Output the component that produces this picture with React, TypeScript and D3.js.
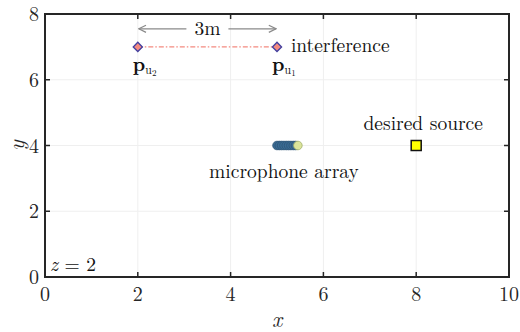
import * as d3 from "d3";

// ---------------------------------------------------------------------------
// Data
// ---------------------------------------------------------------------------

const X_TICKS = [0, 2, 4, 6, 8, 10];
const Y_TICKS = [0, 2, 4, 6, 8];

const MIC_X = [5.0, 5.05, 5.1, 5.15, 5.2, 5.25, 5.3, 5.35, 5.4, 5.45];
const MIC_Y = 4;

const INTERFERENCE = [
  { x: 5, y: 7, sub: "1" },
  { x: 2, y: 7, sub: "2" },
];
const SOURCE = { x: 8, y: 4 };
const ARROW_Y = 7.55;

// ---------------------------------------------------------------------------
// Style / layout
// ---------------------------------------------------------------------------

const W = 520;
const H = 332;
const M = { left: 45, right: 11, top: 14, bottom: 55 };
const FONT = "Latin Modern Roman, serif";
const FS = 19.5;
const AXIS = "#262626";
const GRID = "#efefef";
const MIC_FILL = "#3a6b93";
const MIC_STROKE = "#2e5677";
const MIC_LAST = "#dbe49a";
const LINE_RED = "#f48a80";
const DIAMOND_STROKE = "#4340a0";

export default function App() {
  const innerW = W - M.left - M.right;
  const innerH = H - M.top - M.bottom;
  const x = d3.scaleLinear().domain([0, 10]).range([M.left, M.left + innerW]);
  const y = d3.scaleLinear().domain([0, 8]).range([M.top + innerH, M.top]);

  const diamond = d3.symbol().type(d3.symbolSquare).size(42)();
  const x1 = x(2);
  const x2 = x(5);
  const ay = y(ARROW_Y);

  return (
    <svg
      width={W}
      height={H}
      style={{ position: "absolute", left: 0, top: 0, background: "white" }}
    >
      <defs>
        <marker
          id="ah"
          viewBox="0 0 10 10"
          refX={9}
          refY={5}
          markerWidth={9}
          markerHeight={9}
          orient="auto-start-reverse"
          markerUnits="userSpaceOnUse"
        >
          <path d="M1,1 L9,5 L1,9" fill="none" stroke="#8a8a8a" strokeWidth={1.4} />
        </marker>
      </defs>

      {/* grid */}
      {X_TICKS.map((t) => (
        <line key={`gx${t}`} x1={x(t)} x2={x(t)} y1={M.top} y2={M.top + innerH} stroke={GRID} strokeWidth={1} />
      ))}
      {Y_TICKS.map((t) => (
        <line key={`gy${t}`} x1={M.left} x2={M.left + innerW} y1={y(t)} y2={y(t)} stroke={GRID} strokeWidth={1} />
      ))}

      {/* interference line */}
      <line
        x1={x(2)}
        x2={x(5)}
        y1={y(7)}
        y2={y(7)}
        stroke={LINE_RED}
        strokeWidth={1.2}
        strokeDasharray="5 2 1.5 2"
      />
      {INTERFERENCE.map((p) => (
        <path
          key={`d${p.sub}`}
          d={diamond}
          transform={`translate(${x(p.x)},${y(p.y)}) rotate(45)`}
          fill={LINE_RED}
          stroke={DIAMOND_STROKE}
          strokeWidth={1.3}
        />
      ))}
      {INTERFERENCE.map((p) => (
        <text key={`l${p.sub}`} x={x(p.x) - 5} y={y(p.y) + 24} style={{ fontFamily: FONT }} fill="#111">
          <tspan fontSize={FS} fontWeight="bold">p</tspan>
          <tspan fontSize={12} dy={3}>u</tspan>
          <tspan fontSize={9} dy={2}>{p.sub}</tspan>
        </text>
      ))}

      {/* 3m arrow */}
      <line x1={x1 + 1} x2={(x1 + x2) / 2 - 21} y1={ay} y2={ay} stroke="#8a8a8a" strokeWidth={1.3} markerStart="url(#ah)" />
      <line x1={(x1 + x2) / 2 + 21} x2={x2 - 1} y1={ay} y2={ay} stroke="#8a8a8a" strokeWidth={1.3} markerEnd="url(#ah)" />
      <text x={(x1 + x2) / 2} y={ay + 6} textAnchor="middle" style={{ fontFamily: FONT }} fontSize={FS} fill="#111">
        3m
      </text>

      <text x={x(5.3)} y={y(7) + 5} style={{ fontFamily: FONT }} fontSize={FS} fill="#111">
        interference
      </text>

      {/* microphone array */}
      {MIC_X.map((m, i) => (
        <circle
          key={`m${i}`}
          cx={x(m)}
          cy={y(MIC_Y)}
          r={4.3}
          fill={i === MIC_X.length - 1 ? MIC_LAST : MIC_FILL}
          stroke={i === MIC_X.length - 1 ? "#9fae6a" : MIC_STROKE}
          strokeWidth={0.8}
        />
      ))}
      <text x={x(5.15)} y={y(MIC_Y) + 32} textAnchor="middle" style={{ fontFamily: FONT }} fontSize={FS} fill="#111">
        microphone array
      </text>

      {/* desired source */}
      <rect
        x={x(SOURCE.x) - 5}
        y={y(SOURCE.y) - 5}
        width={10}
        height={10}
        fill="#ffff00"
        stroke="#111"
        strokeWidth={1.5}
      />
      <text x={x(SOURCE.x) + 7} y={y(SOURCE.y) - 16} textAnchor="middle" style={{ fontFamily: FONT }} fontSize={FS} fill="#111">
        desired source
      </text>

      {/* z = 2 */}
      <text x={M.left + 5} y={M.top + innerH - 6} style={{ fontFamily: FONT }} fontSize={FS} fill="#111">
        <tspan fontStyle="italic">z</tspan>
        <tspan> = 2</tspan>
      </text>

      {/* axes box + ticks */}
      <rect x={M.left} y={M.top} width={innerW} height={innerH} fill="none" stroke={AXIS} strokeWidth={2} />
      {X_TICKS.map((t) => (
        <g key={`tx${t}`}>
          <line x1={x(t)} x2={x(t)} y1={M.top + innerH} y2={M.top + innerH - 5} stroke={AXIS} strokeWidth={1.5} />
          <line x1={x(t)} x2={x(t)} y1={M.top} y2={M.top + 5} stroke={AXIS} strokeWidth={1.5} />
          <text x={x(t)} y={M.top + innerH + 24} textAnchor="middle" style={{ fontFamily: FONT }} fontSize={FS + 0.5} fill="#262626">
            {t}
          </text>
        </g>
      ))}
      {Y_TICKS.map((t) => (
        <g key={`ty${t}`}>
          <line x1={M.left} x2={M.left + 5} y1={y(t)} y2={y(t)} stroke={AXIS} strokeWidth={1.5} />
          <line x1={M.left + innerW} x2={M.left + innerW - 5} y1={y(t)} y2={y(t)} stroke={AXIS} strokeWidth={1.5} />
          <text x={M.left - 6} y={y(t) + 7} textAnchor="end" style={{ fontFamily: FONT }} fontSize={FS + 0.5} fill="#262626">
            {t}
          </text>
        </g>
      ))}

      {/* axis labels */}
      <text x={M.left + innerW / 2} y={H - 5} textAnchor="middle" style={{ fontFamily: FONT }} fontSize={22} fontStyle="italic" fill="#262626">
        x
      </text>
      <text
        transform={`translate(24,${M.top + innerH / 2}) rotate(-90)`}
        textAnchor="middle"
        style={{ fontFamily: FONT }}
        fontSize={22}
        fontStyle="italic"
        fill="#262626"
      >
        y
      </text>
    </svg>
  );
}
